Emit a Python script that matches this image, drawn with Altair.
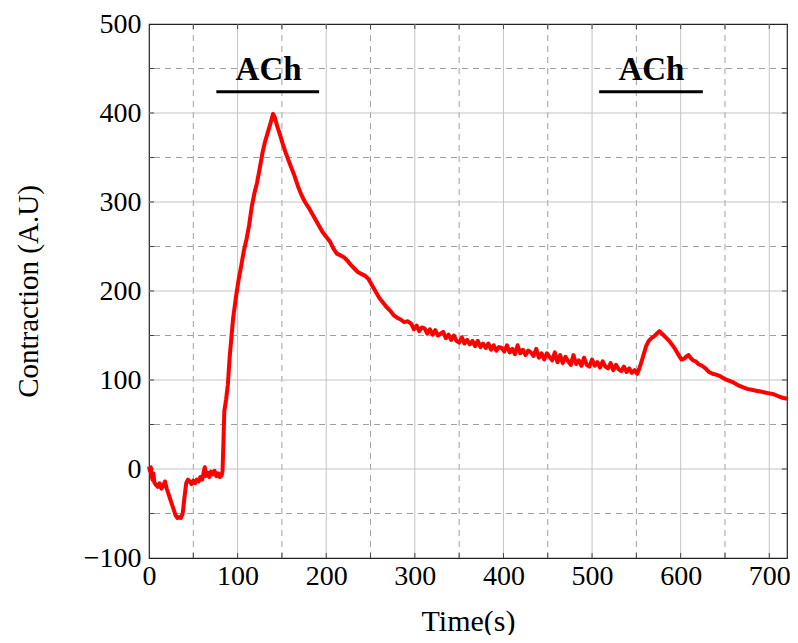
import altair as alt
import pandas as pd

# ---- data ----
time_s = [0, 1, 2, 3, 4, 5, 6, 8, 10, 12, 14, 16, 18, 20, 22, 24, 26, 28, 30, 32, 34, 36, 38, 40,
          42, 44, 46, 48, 50, 52, 54, 56, 58, 60, 62, 63, 64, 66, 68, 70, 72, 74, 76, 78, 80, 82, 83,
          84, 85, 87, 89, 91, 93, 95, 98, 101, 104, 107, 110, 113, 116, 119, 122, 125, 128, 131, 134,
          137, 140, 142, 145, 148, 151, 154, 157, 160, 164, 168, 172, 176, 180, 184, 188, 192, 196,
          200, 204, 208, 212, 216, 220, 224, 228, 232, 236, 240, 244, 248, 252, 256, 260, 264, 268,
          272, 276, 280, 284, 288, 292,
          296, 299, 302, 305, 308, 311, 314, 317, 320, 323, 326, 329, 332, 335, 338, 341, 344, 347,
          350, 353, 356, 359, 362, 365, 368, 371, 374, 377, 380, 383, 386, 389, 392, 395, 398, 401,
          404, 407, 410, 413, 416, 419, 422, 425, 428, 431, 434, 437, 440, 443, 446, 449, 452, 455,
          458, 461, 464, 467, 470, 473, 476, 479, 482, 485, 488, 491, 494, 497, 500, 503, 506, 509,
          512, 515, 518, 521, 524, 527, 530, 533, 536, 539, 542, 545, 548, 551,
          553, 555, 558, 561, 564, 567, 570, 573, 576, 578, 581, 584, 587, 590, 593, 596, 599, 601,
          604, 607, 609, 611, 614, 617, 620, 624, 628, 632, 636, 640, 645, 650, 655, 660, 665, 670,
          675, 680, 685, 690, 695, 700, 705, 710, 715, 720]
contraction = [3, -2, 2, -8, -12, -5, -15, -18, -20, -16, -22, -19, -14, -22, -28, -34, -40, -46, -52,
               -55, -54, -55, -50, -32, -16, -12, -14, -17, -13, -16, -12, -14, -9, -12, -2, 2, -8,
               -4, -9, -3, -6, -2, -8, -5, -9, -7, -2, 30, 65, 78, 95, 125, 148, 170, 192, 212, 228,
               245, 258, 274, 295, 310, 322, 338, 355, 368, 378, 388, 399, 395, 384, 375, 365, 356,
               348, 340, 330, 318, 308, 300, 294, 287, 280, 273, 266, 261, 256, 248, 242, 240, 238,
               234, 229, 225, 221, 219, 217, 213, 206, 199, 192, 187, 182, 178, 173, 170, 168, 165,
               166,
               163, 157, 161, 155, 159, 158, 152, 157, 151, 156, 150, 152, 154, 147, 151, 145, 150,
               144, 142, 148, 141, 145, 140, 144, 138, 144, 137, 141, 136, 141, 134, 139, 133, 137,
               136, 132, 139, 131, 135, 129, 139, 130, 134, 128, 133, 131, 127, 135, 125, 130, 123,
               130, 126, 122, 131, 120, 128, 119, 126, 121, 117, 128, 118, 122, 116, 125, 117, 115,
               123, 116, 120, 114, 121, 115, 113, 119, 111, 117, 112, 110, 115, 109, 113, 108, 111,
               107,
               112, 118, 128, 138, 144, 147, 149, 152, 155, 153, 150, 147, 144, 140, 136, 131, 126,
               123, 124, 127, 128, 125, 122, 121, 118, 116, 113, 109, 107, 106, 104, 101, 99, 97, 94,
               92, 90, 89, 88, 87, 86, 85, 84, 82, 80, 79]

x_labels = [0, 100, 200, 300, 400, 500, 600, 700]
y_labels = [-100, 0, 100, 200, 300, 400, 500]
x_major_grid = [100, 200, 300, 400, 500, 600, 700]
x_minor_grid = [50, 150, 250, 350, 450, 550, 650]
y_major_grid = [0, 100, 200, 300, 400]
y_minor_grid = [-50, 50, 150, 250, 350, 450]
x_ticks = [50, 100, 150, 200, 250, 300, 350, 400, 450, 500, 550, 600, 650, 700]
y_ticks = [-50, 0, 50, 100, 150, 200, 250, 300, 350, 400, 450]

ach_label = ["ACh", "ACh"]
ach_text_x = [135, 567]
ach_text_y = [448, 448]
ach_bar_start = [76, 508]
ach_bar_end = [192, 625]
ach_bar_y = [424, 424]

W, H = 638, 534
FONT = "Liberation Serif"

xs = alt.Scale(domain=[0, 720], nice=False, zero=False)
ys = alt.Scale(domain=[-100, 500], nice=False, zero=False)

xaxis = alt.Axis(values=x_labels, grid=False, ticks=False, domain=False, format="d",
                 labelFlush=False, labelOverlap=False, labelBound=False,
                 labelFont=FONT, labelFontSize=28, labelColor="#000", labelPadding=4,
                 titleFont=FONT, titleFontSize=30, titleFontWeight="normal", titleColor="#000",
                 titleBaseline="middle", titleY=63)
yaxis = alt.Axis(values=y_labels, grid=False, ticks=False, domain=False, format="d",
                 labelFlush=False, labelOverlap=False, labelBound=False,
                 labelFont=FONT, labelFontSize=28, labelColor="#000", labelPadding=8,
                 titleFont=FONT, titleFontSize=29, titleFontWeight="normal", titleColor="#000",
                 titleBaseline="middle", titleX=-121, titleAngle=-90)
XT = "Time(s)"
YT = "Contraction (A.U)"


def X(f):
    return alt.X(f, scale=xs, axis=xaxis, title=XT)


def Y(f):
    return alt.Y(f, scale=ys, axis=yaxis, title=YT)


df_line = pd.DataFrame({"t": time_s, "c": contraction})

xgrid_major = alt.Chart(pd.DataFrame({"v": x_major_grid})).mark_rule(
    color="#c4c4c4", strokeWidth=1).encode(x=X("v:Q"))
xgrid_minor = alt.Chart(pd.DataFrame({"v": x_minor_grid})).mark_rule(
    color="#a0a0a0", strokeWidth=1, strokeDash=[6, 5]).encode(x=X("v:Q"))
ygrid_major = alt.Chart(pd.DataFrame({"v": y_major_grid})).mark_rule(
    color="#c4c4c4", strokeWidth=1).encode(y=Y("v:Q"))
ygrid_minor = alt.Chart(pd.DataFrame({"v": y_minor_grid})).mark_rule(
    color="#a0a0a0", strokeWidth=1, strokeDash=[6, 5]).encode(y=Y("v:Q"))

xt = pd.DataFrame({"v": x_ticks})
yt = pd.DataFrame({"v": y_ticks})
tick_color = "#444444"
tick_bottom = alt.Chart(xt).mark_rule(color=tick_color, strokeWidth=1).encode(
    x=X("v:Q"), y=alt.value(H), y2=alt.value(H - 5))
tick_top = alt.Chart(xt).mark_rule(color=tick_color, strokeWidth=1).encode(
    x=X("v:Q"), y=alt.value(0), y2=alt.value(5))
tick_left = alt.Chart(yt).mark_rule(color=tick_color, strokeWidth=1).encode(
    y=Y("v:Q"), x=alt.value(0), x2=alt.value(5))
tick_right = alt.Chart(yt).mark_rule(color=tick_color, strokeWidth=1).encode(
    y=Y("v:Q"), x=alt.value(W), x2=alt.value(W - 5))

line = alt.Chart(df_line).mark_line(color="#ff0000", strokeWidth=4, strokeJoin="round").encode(
    x=X("t:Q"), y=Y("c:Q"))

df_ach = pd.DataFrame({"label": ach_label, "tx": ach_text_x, "ty": ach_text_y,
                       "b0": ach_bar_start, "b1": ach_bar_end, "by": ach_bar_y})
ach_text = alt.Chart(df_ach).mark_text(font=FONT, fontSize=33, fontWeight="bold", color="#000",
                                       baseline="middle", align="center").encode(
    x=X("tx:Q"), y=Y("ty:Q"), text="label:N")
ach_bar = alt.Chart(df_ach).mark_rule(color="#000", strokeWidth=3).encode(
    x=X("b0:Q"), x2="b1:Q", y=Y("by:Q"))

chart = alt.layer(
    xgrid_major, xgrid_minor, ygrid_major, ygrid_minor,
    tick_bottom, tick_top, tick_left, tick_right,
    line, ach_bar, ach_text,
).properties(
    width=W, height=H,
    autosize=alt.AutoSizeParams(type="none"),
    padding={"left": 141, "top": 16, "right": 3, "bottom": 77},
    background="white",
).configure_view(stroke="#222222", strokeWidth=1.2)

chart.save("out.html", embed_options={"renderer": "svg", "actions": False})
